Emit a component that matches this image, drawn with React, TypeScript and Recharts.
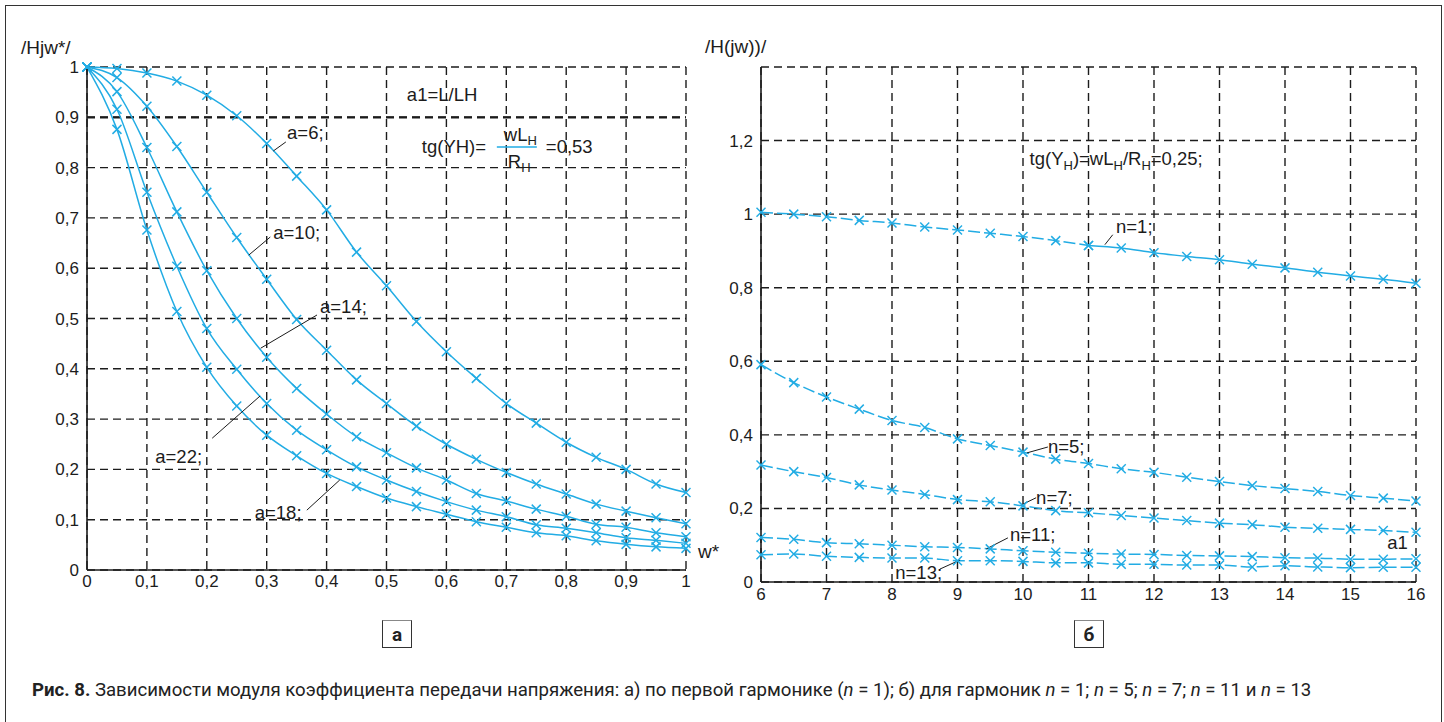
import React from 'react';
import { LineChart, Line, XAxis, YAxis, CartesianGrid, ReferenceLine, ReferenceDot } from 'recharts';

const BLUE = '#22ace4';
const INK = '#1c1c1c';
const FONT = '"Liberation Sans", Arial, sans-serif';
const DASH = '8 5';

// chart а: |H(jw*)| against w*, first harmonic
const wStar = [0, 0.05, 0.1, 0.15, 0.2, 0.25, 0.3, 0.35, 0.4, 0.45, 0.5, 0.55, 0.6, 0.65, 0.7, 0.75, 0.8, 0.85, 0.9, 0.95, 1];
const a6 = [1, 0.997, 0.988, 0.972, 0.944, 0.903, 0.848, 0.783, 0.716, 0.632, 0.565, 0.494, 0.434, 0.381, 0.331, 0.292, 0.254, 0.224, 0.2, 0.171, 0.154];
const a10 = [1, 0.979, 0.922, 0.842, 0.751, 0.661, 0.578, 0.498, 0.437, 0.378, 0.331, 0.286, 0.25, 0.22, 0.194, 0.171, 0.151, 0.131, 0.117, 0.104, 0.092];
const a14 = [1, 0.951, 0.84, 0.712, 0.595, 0.5, 0.423, 0.361, 0.31, 0.265, 0.233, 0.203, 0.179, 0.152, 0.137, 0.121, 0.107, 0.091, 0.085, 0.074, 0.066];
const a22 = [1, 0.916, 0.751, 0.604, 0.48, 0.399, 0.331, 0.278, 0.239, 0.205, 0.179, 0.156, 0.136, 0.119, 0.106, 0.09, 0.083, 0.074, 0.064, 0.059, 0.053];
const a18 = [1, 0.876, 0.676, 0.514, 0.403, 0.326, 0.268, 0.227, 0.192, 0.166, 0.143, 0.126, 0.111, 0.096, 0.085, 0.074, 0.068, 0.058, 0.051, 0.046, 0.043];
const ticksA = [0, 0.1, 0.2, 0.3, 0.4, 0.5, 0.6, 0.7, 0.8, 0.9, 1];

// chart б: harmonics n = 1, 5, 7, 11, 13
const omega = [6, 6.5, 7, 7.5, 8, 8.5, 9, 9.5, 10, 10.5, 11, 11.5, 12, 12.5, 13, 13.5, 14, 14.5, 15, 15.5, 16];
const n1 = [1.005, 1.0, 0.993, 0.983, 0.976, 0.965, 0.957, 0.948, 0.939, 0.928, 0.915, 0.908, 0.895, 0.885, 0.876, 0.864, 0.854, 0.842, 0.832, 0.823, 0.812];
const n5 = [0.591, 0.542, 0.503, 0.47, 0.439, 0.42, 0.389, 0.371, 0.353, 0.334, 0.322, 0.308, 0.298, 0.285, 0.273, 0.262, 0.254, 0.246, 0.235, 0.228, 0.22];
const n7 = [0.318, 0.3, 0.284, 0.264, 0.25, 0.238, 0.224, 0.218, 0.207, 0.194, 0.188, 0.181, 0.174, 0.167, 0.16, 0.156, 0.149, 0.146, 0.143, 0.14, 0.135];
const n11 = [0.121, 0.116, 0.107, 0.104, 0.1, 0.096, 0.094, 0.09, 0.085, 0.081, 0.078, 0.076, 0.075, 0.072, 0.071, 0.069, 0.066, 0.065, 0.062, 0.062, 0.063];
const n13 = [0.074, 0.076, 0.07, 0.067, 0.065, 0.065, 0.058, 0.058, 0.056, 0.052, 0.052, 0.048, 0.048, 0.046, 0.046, 0.041, 0.044, 0.041, 0.039, 0.04, 0.04];
const ticksBX = [6, 7, 8, 9, 10, 11, 12, 13, 14, 15, 16];
const ticksBY = [0, 0.2, 0.4, 0.6, 0.8, 1, 1.2, 1.4];

const dataA = wStar.map((w, i) => ({ w, a6: a6[i], a10: a10[i], a14: a14[i], a18: a18[i], a22: a22[i] }));
// n=1 is drawn dashed up to 11 and solid after it
const dataB = omega.map((x, i) => ({
  x,
  n1d: x <= 11 ? n1[i] : null,
  n1s: x >= 11 ? n1[i] : null,
  n5: n5[i],
  n7: n7[i],
  n11: n11[i],
  n13: n13[i],
}));

const comma = (v: number) => String(+v.toFixed(2)).replace('.', ',');

function cross(p: any) {
  const { cx, cy, value, index } = p;
  if (cx == null || cy == null || value == null) return <g key={index} />;
  const s = 4.5;
  return (
    <g key={index} stroke={BLUE} strokeWidth={1.5}>
      <line x1={cx - s} y1={cy - s} x2={cx + s} y2={cy + s} />
      <line x1={cx - s} y1={cy + s} x2={cx + s} y2={cy - s} />
    </g>
  );
}

const tag = (text: string) => (p: any) => (
  <text x={p.cx} y={p.cy} dy="0.35em" fontSize={18.5} fill={INK} fontFamily={FONT}>
    {text}
  </text>
);

const fracA = (p: any) => {
  const x = p.cx;
  const y = p.cy;
  return (
    <g fontFamily={FONT} fill={INK} fontSize={18.5}>
      <text x={x} y={y} dy="0.35em">tg(YH)=</text>
      <line x1={x + 75} y1={y} x2={x + 115} y2={y} stroke={BLUE} strokeWidth={1.5} />
      <text x={x + 82} y={y - 12} dy="0.35em">wL<tspan fontSize={13} dy={4}>H</tspan></text>
      <text x={x + 86} y={y + 15} dy="0.35em">R<tspan fontSize={13} dy={4}>H</tspan></text>
      <text x={x + 124} y={y} dy="0.35em">=0,53</text>
    </g>
  );
};

const formulaB = (p: any) => (
  <text x={p.cx} y={p.cy} dy="0.35em" fontSize={18.5} fill={INK} fontFamily={FONT}>
    tg(Y<tspan fontSize={13} dy={5}>H</tspan>
    <tspan dy={-5}>)=wL</tspan>
    <tspan fontSize={13} dy={5}>H</tspan>
    <tspan dy={-5}>/R</tspan>
    <tspan fontSize={13} dy={5}>H</tspan>
    <tspan dy={-5}>=0,25;</tspan>
  </text>
);

const tickStyle = { fontSize: 17, fill: INK, fontFamily: FONT };
const axisStyle = { stroke: INK, strokeWidth: 1.6 };

function ChartA() {
  return (
    <LineChart width={720} height={610} data={dataA} margin={{ top: 67, right: 34, bottom: 10, left: 37 }}>
      <CartesianGrid stroke={INK} strokeDasharray={DASH} strokeWidth={1.4} />
      <XAxis dataKey="w" type="number" domain={[0, 1]} ticks={ticksA} interval={0} tickFormatter={comma}
        tick={tickStyle} tickLine={false} tickSize={3} axisLine={axisStyle} height={30} />
      <YAxis type="number" domain={[0, 1]} ticks={ticksA} interval={0} tickFormatter={comma}
        tick={tickStyle} tickLine={false} axisLine={axisStyle} width={50} />
      <ReferenceLine y={0.9} stroke={INK} strokeWidth={2.2} strokeDasharray={DASH} />
      {['a6', 'a10', 'a14', 'a22', 'a18'].map(k => (
        <Line key={k} dataKey={k} type="monotone" stroke={BLUE} strokeWidth={1.5} dot={cross} isAnimationActive={false} />
      ))}
      <ReferenceLine segment={[{ x: 0.311, y: 0.833 }, { x: 0.332, y: 0.851 }]} stroke={INK} />
      <ReferenceLine segment={[{ x: 0.27, y: 0.626 }, { x: 0.306, y: 0.662 }]} stroke={INK} />
      <ReferenceLine segment={[{ x: 0.29, y: 0.441 }, { x: 0.384, y: 0.507 }]} stroke={INK} />
      <ReferenceLine segment={[{ x: 0.209, y: 0.262 }, { x: 0.289, y: 0.346 }]} stroke={INK} />
      <ReferenceLine segment={[{ x: 0.367, y: 0.119 }, { x: 0.422, y: 0.179 }]} stroke={INK} />
      <ReferenceDot x={0.334} y={0.869} r={0} shape={tag('a=6;')} />
      <ReferenceDot x={0.311} y={0.67} r={0} shape={tag('a=10;')} />
      <ReferenceDot x={0.389} y={0.523} r={0} shape={tag('a=14;')} />
      <ReferenceDot x={0.114} y={0.225} r={0} shape={tag('a=22;')} />
      <ReferenceDot x={0.28} y={0.115} r={0} shape={tag('a=18;')} />
      <ReferenceDot x={0.534} y={0.946} r={0} shape={tag('a1=L/LH')} />
      <ReferenceDot x={0.559} y={0.841} r={0} shape={fracA} />
    </LineChart>
  );
}

function ChartB() {
  return (
    <LineChart width={740} height={620} data={dataB} margin={{ top: 67, right: 24, bottom: 8, left: 21 }}>
      <CartesianGrid stroke={INK} strokeDasharray={DASH} strokeWidth={1.4} />
      <XAxis dataKey="x" type="number" domain={[6, 16]} ticks={ticksBX} interval={0}
        tick={tickStyle} tickLine={false} tickSize={4} axisLine={axisStyle} height={30} />
      <YAxis type="number" domain={[0, 1.4]} ticks={ticksBY} interval={0}
        tickFormatter={(v: number) => (v > 1.3 ? '' : comma(v))}
        tick={tickStyle} tickLine={false} axisLine={axisStyle} width={40} />
      <Line dataKey="n1d" type="monotone" stroke={BLUE} strokeWidth={1.5} strokeDasharray="12 4" dot={cross} isAnimationActive={false} />
      <Line dataKey="n1s" type="monotone" stroke={BLUE} strokeWidth={1.5} dot={cross} isAnimationActive={false} />
      {['n5', 'n7', 'n11', 'n13'].map(k => (
        <Line key={k} dataKey={k} type="monotone" stroke={BLUE} strokeWidth={1.5} strokeDasharray="12 4" dot={cross} isAnimationActive={false} />
      ))}
      <ReferenceLine segment={[{ x: 11.25, y: 0.917 }, { x: 11.37, y: 0.944 }]} stroke={INK} />
      <ReferenceLine segment={[{ x: 10.06, y: 0.351 }, { x: 10.38, y: 0.367 }]} stroke={INK} />
      <ReferenceLine segment={[{ x: 9.98, y: 0.21 }, { x: 10.2, y: 0.229 }]} stroke={INK} />
      <ReferenceLine segment={[{ x: 9.44, y: 0.09 }, { x: 9.77, y: 0.12 }]} stroke={INK} />
      <ReferenceLine segment={[{ x: 8.73, y: 0.035 }, { x: 9.04, y: 0.06 }]} stroke={INK} />
      <ReferenceDot x={11.42} y={0.966} r={0} shape={tag('n=1;')} />
      <ReferenceDot x={10.38} y={0.367} r={0} shape={tag('n=5;')} />
      <ReferenceDot x={10.2} y={0.231} r={0} shape={tag('n=7;')} />
      <ReferenceDot x={9.8} y={0.128} r={0} shape={tag('n=11;')} />
      <ReferenceDot x={8.05} y={0.027} r={0} shape={tag('n=13;')} />
      <ReferenceDot x={15.56} y={0.106} r={0} shape={tag('a1')} />
      <ReferenceDot x={10.1} y={1.151} r={0} shape={formulaB} />
    </LineChart>
  );
}

const boxStyle: React.CSSProperties = {
  position: 'absolute', width: 30, height: 28, boxSizing: 'border-box',
  border: '1.5px solid #333', borderTopColor: '#888', display: 'flex', alignItems: 'center',
  justifyContent: 'center', fontFamily: 'Roboto, sans-serif', fontWeight: 700, fontSize: 19, color: '#222',
};

const label = (left: number, top: number): React.CSSProperties => ({
  position: 'absolute', left, top, fontFamily: FONT, fontSize: 19, color: INK, lineHeight: '22px',
});

export default function App() {
  return (
    <div style={{ position: 'absolute', left: 0, top: 0, width: 1444, height: 722, overflow: 'hidden', background: '#fff' }}>
      <div style={{ position: 'absolute', left: 5, top: 5, width: 1437, height: 800, boxSizing: 'border-box', border: '1.5px solid #333' }} />
      <div style={{ position: 'absolute', left: 0, top: 0 }}><ChartA /></div>
      <div style={{ position: 'absolute', left: 700, top: 0 }}><ChartB /></div>
      <div style={label(21, 37)}>/Hjw*/</div>
      <div style={label(705, 36)}>/H(jw))/</div>
      <div style={label(698, 541)}>w*</div>
      <div style={{ ...boxStyle, left: 382, top: 620 }}>а</div>
      <div style={{ ...boxStyle, left: 1074, top: 620 }}>б</div>
      <div style={{ position: 'absolute', left: 32, top: 679, fontFamily: 'Roboto, sans-serif', fontSize: 18.6, color: '#222', whiteSpace: 'nowrap' }}>
        <b>Рис. 8.</b> Зависимости модуля коэффициента передачи напряжения: а) по первой гармонике (<i>n</i> = 1); б) для гармоник <i>n</i> = 1; <i>n</i> = 5; <i>n</i> = 7; <i>n</i> = 11 и <i>n</i> = 13
      </div>
    </div>
  );
}
